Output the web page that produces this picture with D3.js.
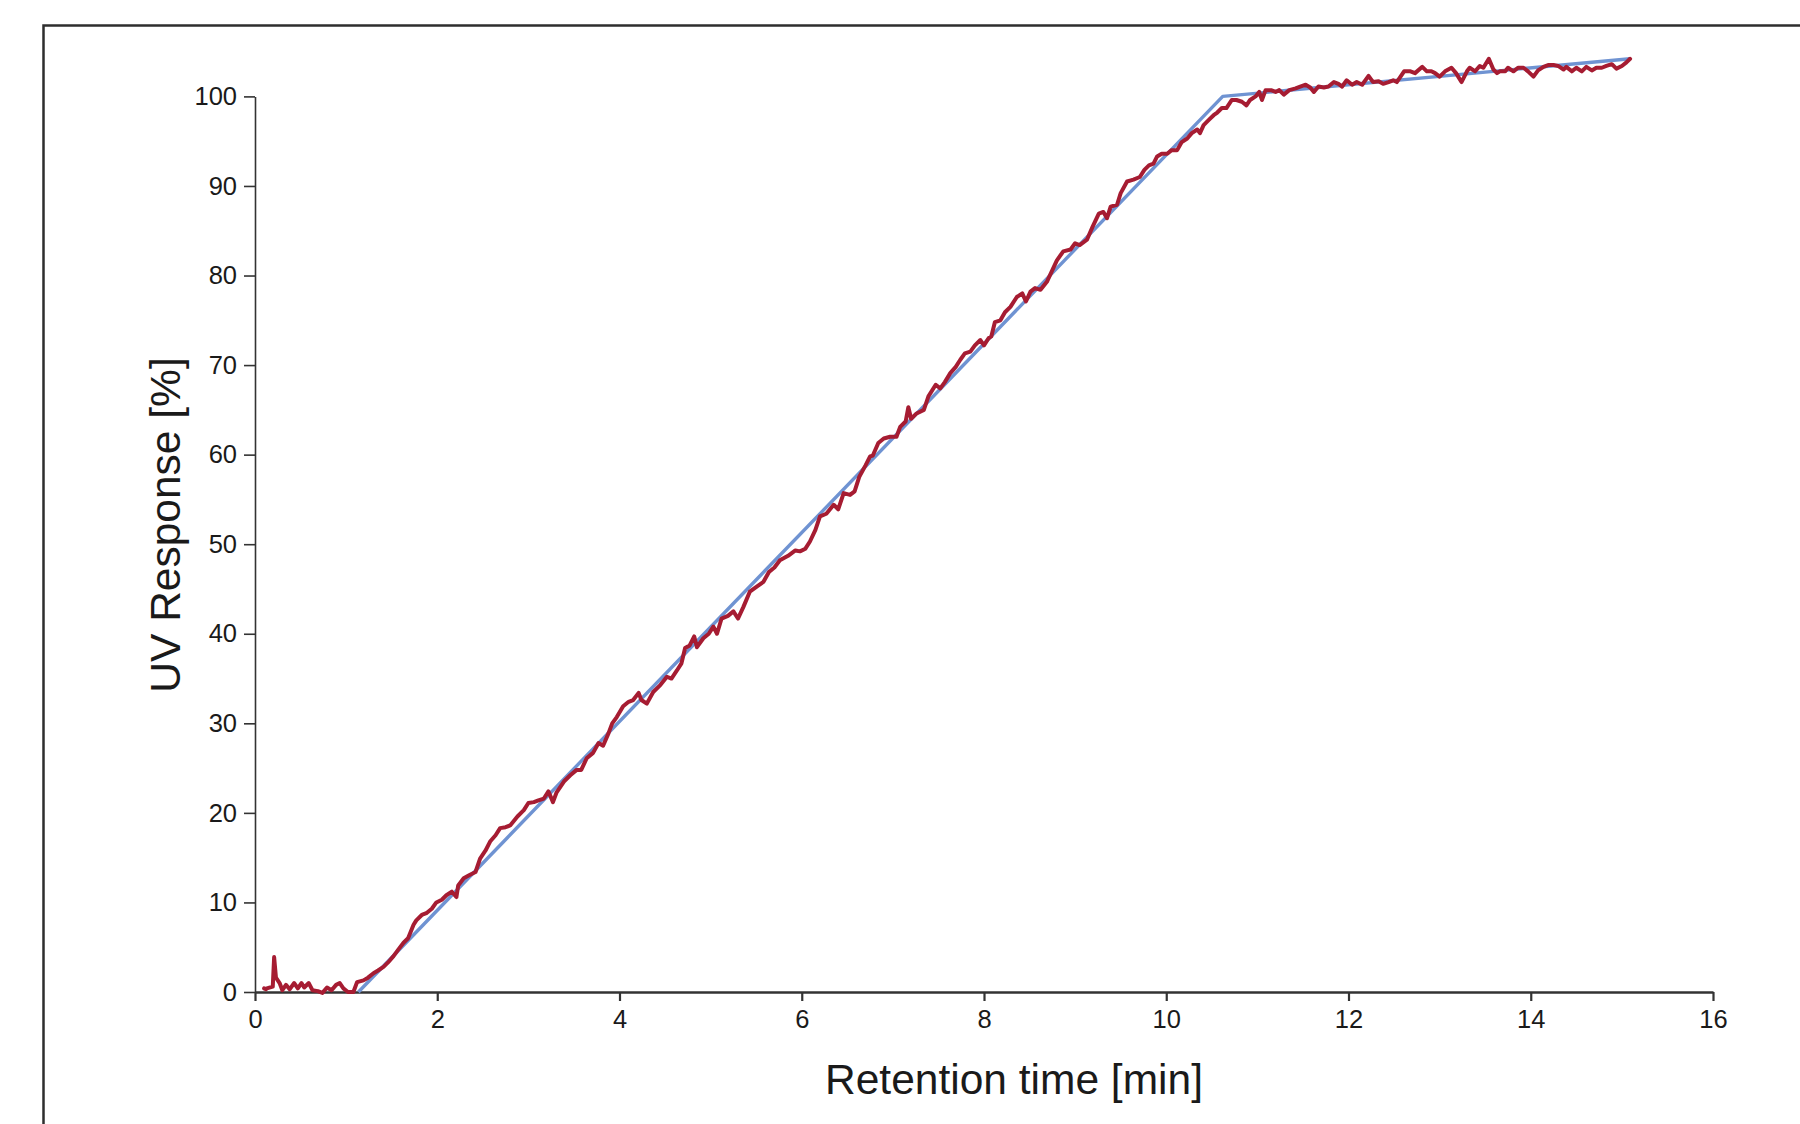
<!DOCTYPE html>
<html>
<head>
<meta charset="utf-8">
<script src="https://cdn.jsdelivr.net/npm/d3@7"></script>
<style>
  html, body { margin: 0; padding: 0; background: #ffffff; }
  svg { display: block; }
  text { font-family: "Liberation Sans", Arial, Helvetica, sans-serif; fill: #1a1a1a; }
</style>
</head>
<body>
<svg id="chart" width="1800" height="1124"></svg>
<script>
// Programmed gradient (% B) – straight segments
const gradientTime = [1.135, 10.62, 15.09];
const gradientPercent = [0, 100, 104.2];

// Measured UV trace: retention time [min]
const uvTime = [
  0.10, 0.12, 0.13, 0.195, 0.21, 0.23, 0.27, 0.30, 0.34, 0.38, 0.43, 0.47, 0.51, 0.54, 0.59, 0.63,
  0.69, 0.74, 0.79, 0.84, 0.89, 0.93, 0.97, 1.02, 1.08, 1.12, 1.19, 1.24, 1.30, 1.35, 1.41, 1.46,
  1.52, 1.57, 1.63, 1.68, 1.74, 1.77, 1.83, 1.88, 1.94, 1.99, 2.05, 2.10, 2.16, 2.21, 2.23, 2.29,
  2.36, 2.42, 2.47, 2.53, 2.58, 2.64, 2.69, 2.75, 2.80, 2.88, 2.95, 3.00, 3.06, 3.11, 3.17, 3.22,
  3.27, 3.31, 3.39, 3.46, 3.53, 3.58, 3.64, 3.71, 3.77, 3.82, 3.88, 3.92, 3.97, 4.04, 4.10, 4.15,
  4.21, 4.24, 4.30, 4.37, 4.45, 4.52, 4.57, 4.63, 4.68, 4.72, 4.77, 4.82, 4.85, 4.92, 4.98, 5.03,
  5.07, 5.12, 5.19, 5.25, 5.30, 5.36, 5.43, 5.51, 5.58, 5.64, 5.70, 5.76, 5.85, 5.93, 5.98, 6.04,
  6.09, 6.15, 6.20, 6.27, 6.35, 6.40, 6.46, 6.53, 6.58, 6.63, 6.70, 6.75, 6.78, 6.84, 6.90, 6.97,
  7.04, 7.08, 7.14, 7.17, 7.20, 7.26, 7.34, 7.39, 7.47, 7.52, 7.57, 7.63, 7.69, 7.74, 7.79, 7.85,
  7.90, 7.96, 8.00, 8.05, 8.08, 8.12, 8.18, 8.23, 8.29, 8.36, 8.42, 8.46, 8.51, 8.56, 8.62, 8.69,
  8.75, 8.80, 8.87, 8.95, 9.00, 9.05, 9.13, 9.19, 9.26, 9.31, 9.35, 9.39, 9.46, 9.50, 9.57, 9.64,
  9.71, 9.76, 9.81, 9.86, 9.90, 9.95, 10.01, 10.06, 10.12, 10.17, 10.23, 10.28, 10.34, 10.37, 10.41, 10.47,
  10.52, 10.56, 10.61, 10.66, 10.72, 10.77, 10.83, 10.88, 10.92, 10.98, 11.02, 11.05, 11.09, 11.15, 11.20, 11.24,
  11.29, 11.35, 11.42, 11.47, 11.53, 11.58, 11.62, 11.67, 11.73, 11.78, 11.84, 11.89, 11.93, 11.98, 12.04, 12.09,
  12.15, 12.22, 12.27, 12.33, 12.38, 12.44, 12.49, 12.53, 12.61, 12.68, 12.73, 12.81, 12.86, 12.91, 12.95, 13.00,
  13.06, 13.13, 13.18, 13.24, 13.30, 13.33, 13.39, 13.44, 13.48, 13.54, 13.59, 13.63, 13.66, 13.72, 13.75, 13.81,
  13.86, 13.92, 13.97, 14.03, 14.08, 14.14, 14.19, 14.25, 14.30, 14.36, 14.39, 14.45, 14.50, 14.56, 14.61, 14.67,
  14.72, 14.78, 14.83, 14.89, 14.94, 15.00, 15.05, 15.09
];

// Measured UV trace: response [%]
const uvResponse = [
  0.4, 0.3, 0.4, 0.6, 3.9, 1.6, 1.0, 0.2, 0.8, 0.3, 1.0, 0.4, 1.0, 0.5, 1.0, 0.2,
  0.1, -0.1, 0.5, 0.2, 0.8, 1.0, 0.4, 0.0, 0.0, 1.1, 1.3, 1.6, 2.1, 2.4, 2.8, 3.3,
  4.0, 4.7, 5.5, 6.0, 7.5, 8.0, 8.6, 8.8, 9.3, 10.0, 10.3, 10.8, 11.2, 10.6, 11.9, 12.7,
  13.1, 13.4, 14.9, 15.8, 16.8, 17.5, 18.3, 18.4, 18.6, 19.6, 20.3, 21.1, 21.2, 21.4, 21.6, 22.4,
  21.2, 22.3, 23.5, 24.2, 24.8, 24.8, 26.1, 26.7, 27.8, 27.5, 28.9, 30.0, 30.7, 31.9, 32.4, 32.6,
  33.4, 32.6, 32.2, 33.5, 34.3, 35.2, 35.0, 35.9, 36.7, 38.4, 38.7, 39.7, 38.5, 39.5, 40.0, 40.8,
  40.0, 41.7, 42.0, 42.5, 41.7, 43.0, 44.7, 45.3, 45.8, 46.9, 47.4, 48.2, 48.7, 49.3, 49.2, 49.5,
  50.3, 51.6, 53.1, 53.4, 54.4, 53.9, 55.7, 55.5, 55.9, 57.5, 58.8, 59.8, 59.9, 61.3, 61.8, 62.0,
  62.0, 63.1, 63.7, 65.3, 64.0, 64.6, 65.0, 66.5, 67.8, 67.4, 68.1, 69.1, 69.8, 70.6, 71.3, 71.5,
  72.2, 72.8, 72.2, 73.0, 73.2, 74.8, 75.0, 75.9, 76.5, 77.6, 78.0, 77.1, 78.2, 78.6, 78.4, 79.3,
  80.6, 81.7, 82.7, 82.9, 83.6, 83.4, 84.0, 85.4, 86.9, 87.1, 86.4, 87.7, 87.9, 89.2, 90.5, 90.7,
  91.0, 91.8, 92.3, 92.5, 93.3, 93.6, 93.6, 94.0, 94.0, 94.9, 95.3, 95.9, 96.3, 95.9, 96.8, 97.4,
  97.9, 98.2, 98.7, 98.7, 99.6, 99.6, 99.4, 99.0, 99.6, 100.0, 100.5, 99.6, 100.7, 100.7, 100.5, 100.7,
  100.2, 100.7, 100.9, 101.1, 101.3, 101.0, 100.5, 101.1, 101.0, 101.1, 101.6, 101.4, 101.1, 101.8, 101.3, 101.6,
  101.3, 102.3, 101.6, 101.7, 101.4, 101.6, 101.8, 101.6, 102.8, 102.8, 102.6, 103.3, 102.8, 102.8, 102.6, 102.2,
  102.8, 103.2, 102.6, 101.6, 102.8, 103.2, 102.8, 103.4, 103.2, 104.2, 103.0, 102.6, 102.8, 102.8, 103.2, 102.8,
  103.2, 103.2, 102.8, 102.2, 102.9, 103.3, 103.5, 103.5, 103.4, 103.0, 103.3, 102.8, 103.2, 102.8, 103.3, 102.9,
  103.2, 103.2, 103.4, 103.6, 103.1, 103.4, 103.8, 104.2
];

// Axis ticks
const xTicks = [0, 2, 4, 6, 8, 10, 12, 14, 16];
const yTicks = [0, 10, 20, 30, 40, 50, 60, 70, 80, 90, 100];

const svg = d3.select("#chart");

// Outer frame (runs off the right and bottom of the page)
svg.append("rect")
  .attr("x", 43.5).attr("y", 25.5)
  .attr("width", 2000).attr("height", 2000)
  .attr("fill", "none")
  .attr("stroke", "#2e2e2e")
  .attr("stroke-width", 2.5);

const x = d3.scaleLinear().domain([0, 16]).range([255, 1713]);
const y = d3.scaleLinear().domain([0, 100]).range([992, 96.4]);

// Y axis
const yAxis = svg.append("g")
  .attr("transform", `translate(${x(0)},0)`)
  .call(d3.axisLeft(y).tickValues(yTicks).tickSize(11).tickSizeOuter(0).tickPadding(7).tickFormat(d3.format("d")));
yAxis.select(".domain").attr("stroke", "#333").attr("stroke-width", 1.6);
yAxis.selectAll(".tick line").attr("stroke", "#333").attr("stroke-width", 1.6);
yAxis.selectAll(".tick text")
  .attr("font-size", 25.5)
  .attr("font-family", "Liberation Sans, Arial, sans-serif")
  .attr("fill", "#1a1a1a");

// X axis
const xAxis = svg.append("g")
  .attr("transform", `translate(0,${y(0)})`)
  .call(d3.axisBottom(x).tickValues(xTicks).tickSize(9).tickSizeOuter(0).tickPadding(9).tickFormat(d3.format("d")));
xAxis.select(".domain").attr("stroke", "#333").attr("stroke-width", 2.6);
xAxis.selectAll(".tick line").attr("stroke", "#333").attr("stroke-width", 2.2);
xAxis.selectAll(".tick text")
  .attr("font-size", 25.5)
  .attr("font-family", "Liberation Sans, Arial, sans-serif")
  .attr("fill", "#1a1a1a");

// Axis titles
svg.append("text")
  .attr("x", 1014).attr("y", 1094)
  .attr("text-anchor", "middle")
  .attr("font-size", 42.5)
  .text("Retention time [min]");

svg.append("text")
  .attr("transform", "translate(180,525) rotate(-90)")
  .attr("text-anchor", "middle")
  .attr("font-size", 42.5)
  .text("UV Response [%]");

// Gradient line
const gradientPts = gradientTime.map((t, i) => [t, gradientPercent[i]]);
svg.append("path")
  .datum(gradientPts)
  .attr("fill", "none")
  .attr("stroke", "#6f93d2")
  .attr("stroke-width", 3.4)
  .attr("stroke-linejoin", "round")
  .attr("d", d3.line().x(d => x(d[0])).y(d => y(d[1])));

// UV trace
const uvPts = uvTime.map((t, i) => [t, uvResponse[i]]);
svg.append("path")
  .datum(uvPts)
  .attr("fill", "none")
  .attr("stroke", "#a61c32")
  .attr("stroke-width", 4)
  .attr("stroke-linejoin", "round")
  .attr("stroke-linecap", "round")
  .attr("d", d3.line().x(d => x(d[0])).y(d => y(d[1])));
</script>
</body>
</html>
